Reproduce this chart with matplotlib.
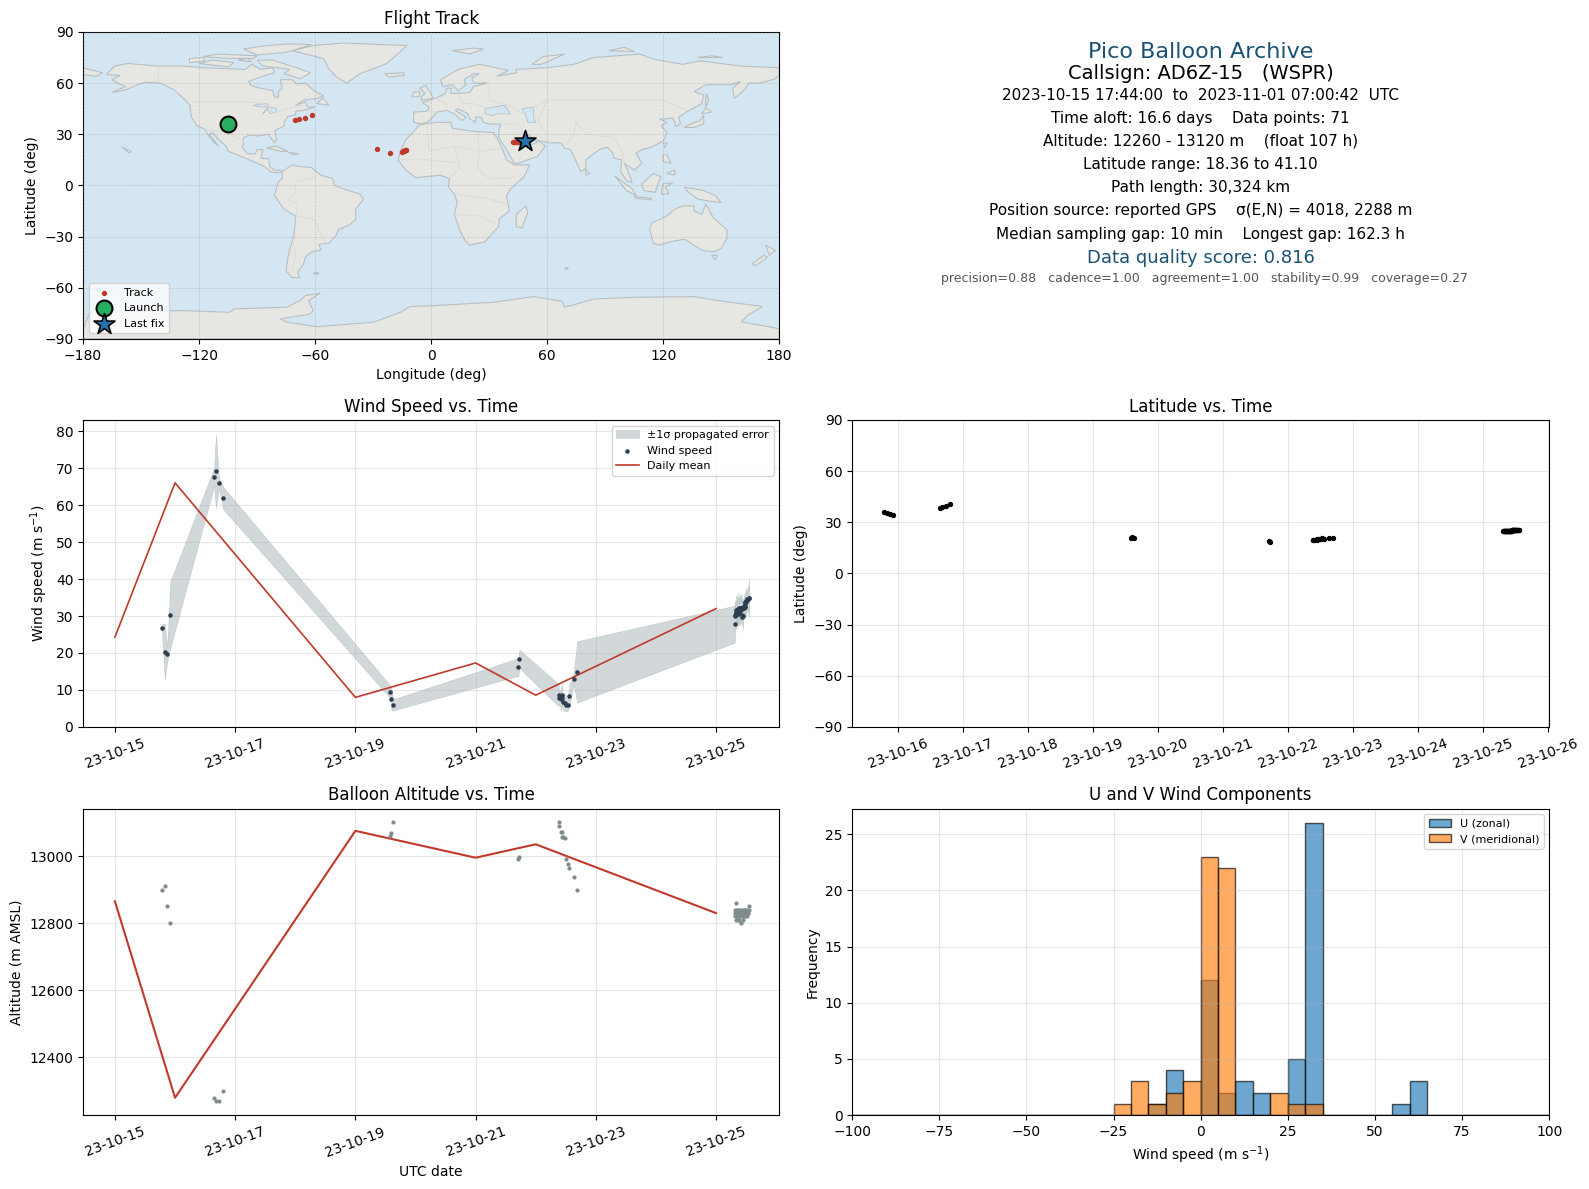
import matplotlib
matplotlib.use("Agg")
import matplotlib.pyplot as plt
import matplotlib.dates as mdates
import numpy as np

# ---- data ----
# days in October 2023 (fractional)
t_g1 = [15.78, 15.83, 15.87, 15.92]
t_g2 = [16.65, 16.68, 16.73, 16.80]
t_g3 = [19.58, 19.60, 19.63]
t_g4 = [21.71, 21.73]
t_g5 = [22.38, 22.39, 22.42, 22.44, 22.44, 22.46, 22.49, 22.51, 22.53, 22.56, 22.63, 22.69]
t_g6 = [25.31, 25.32, 25.32, 25.33, 25.33, 25.34, 25.34, 25.35, 25.35, 25.36, 25.36, 25.37,
        25.37, 25.38, 25.38, 25.39, 25.39, 25.40, 25.40, 25.41, 25.41, 25.42, 25.42, 25.43,
        25.43, 25.44, 25.44, 25.45, 25.45, 25.46, 25.46, 25.47, 25.47, 25.48, 25.48, 25.49,
        25.49, 25.50, 25.50, 25.51, 25.51, 25.52, 25.53, 25.54, 25.55, 25.55]
times = t_g1 + t_g2 + t_g3 + t_g4 + t_g5 + t_g6

wind = [26.8, 20.4, 19.7, 30.3, 67.6, 69.2, 66.0, 61.9, 9.5, 7.5, 6.0, 16.2, 18.4,
        8.6, 7.8, 7.5, 8.7, 7.8, 6.8, 6.5, 6.0, 5.9, 8.4, 13.0, 14.9,
        27.8, 30.4, 30.1, 30.8, 31.0, 30.2, 31.6, 31.2, 30.6, 31.9, 31.5, 30.6,
        32.0, 31.7, 31.2, 32.3, 31.8, 31.4, 32.1, 31.9, 32.2, 32.0, 32.3, 30.4,
        32.3, 32.0, 29.6, 32.2, 30.1, 32.5, 32.4, 32.3, 32.6, 32.5, 33.4, 32.8,
        33.9, 34.1, 33.8, 34.5, 34.2, 34.3, 34.6, 34.7, 34.9, 34.9]
wind_sigma = [0.9, 7.6, 2.0, 9.0, 2.5, 10.0, 1.5, 3.0, 1.7, 3.0, 1.5, 2.4, 2.5,
              3.0, 1.5, 3.0, 3.0, 1.5, 2.4, 2.2, 1.8, 1.5, 3.0, 1.5, 8.3,
              5.0, 4.0, 2.0, 4.5, 1.5, 3.5, 4.0, 2.0, 3.0, 4.5, 2.0, 3.5,
              3.0, 1.5, 3.5, 4.0, 2.0, 4.0, 2.5, 3.5, 1.5, 4.0, 2.0, 3.0,
              3.5, 1.5, 4.0, 2.5, 3.0, 1.5, 3.5, 2.0, 3.0, 1.5, 3.5, 1.5,
              2.5, 2.0, 4.0, 2.0, 3.0, 1.5, 4.0, 2.0, 5.0, 3.0]
altitude = [12900, 12910, 12850, 12800, 12280, 12270, 12270, 12300, 13060, 13070, 13100,
            12990, 12998, 13100, 13089, 13073, 13071, 13058, 13058, 13055, 12990, 12975,
            12963, 12939, 12900,
            12830, 12820, 12840, 12810, 12830, 12860, 12820, 12840, 12830, 12810, 12830,
            12820, 12840, 12830, 12820, 12810, 12840, 12830, 12820, 12830, 12840, 12800,
            12830, 12820, 12840, 12830, 12820, 12810, 12830, 12820, 12840, 12830, 12820,
            12830, 12840, 12830, 12820, 12830, 12840, 12820, 12830, 12840, 12830, 12830,
            12840, 12850]
latitude = [36.0, 35.2, 34.7, 34.2, 38.4, 38.9, 39.7, 40.6, 21.0, 21.1, 21.0, 19.0, 18.4,
            19.6, 19.7, 19.8, 19.9, 20.0, 20.1, 20.2, 20.4, 20.6, 20.5, 20.7, 20.7,
            24.7, 24.7, 24.7, 24.7, 24.8, 24.7, 24.8, 24.8, 24.8, 24.8, 24.9, 24.8,
            24.9, 24.9, 24.9, 24.9, 25.0, 24.9, 25.0, 25.0, 25.0, 25.1, 25.1, 25.0,
            25.1, 25.2, 25.1, 25.2, 25.2, 25.3, 25.2, 25.3, 25.3, 25.4, 25.3, 25.4,
            25.4, 25.5, 25.4, 25.5, 25.5, 25.5, 25.6, 25.5, 25.6, 25.6]

mean_days = [15, 16, 19, 21, 22, 25]
mean_wind = [24.3, 66.0, 8.0, 17.3, 8.6, 32.0]
mean_alt = [12865, 12280, 13075, 12995, 13035, 12830]

track_lon = [-70.5, -68.4, -65.3, -61.7, -28.2, -21.3, -15, -14.5, -14, -13.5, -13, -12.8,
             42.5, 43, 44, 44.5, 45, 45.5, 46, 47, 48]
track_lat = [38.2, 38.8, 39.8, 41.1, 21.2, 18.8, 19.8, 20, 20.3, 20.5, 20.6, 20.6,
             25.2, 25.3, 25.3, 25.4, 25.4, 25.5, 25.5, 25.7, 25.9]
launch = (-105.2, 35.8)
last_fix = (48.3, 25.9)

hist_edges = list(range(-100, 105, 5))
u_counts = [0] * 17 + [1, 4, 0, 12, 2, 3, 2, 0, 5, 26, 0, 0, 0, 0, 1, 3] + [0] * 7
v_counts = [0] * 15 + [1, 3, 1, 2, 3, 23, 22, 0, 0, 2, 1, 1] + [0] * 13

info_lines = [
    ("Pico Balloon Archive", 16, "#1a5276", 51, 1185),
    ("Callsign: AD6Z-15   (WSPR)", 14, "black", 73, 1185),
    ("2023-10-15 17:44:00  to  2023-11-01 07:00:42  UTC", 11, "black", 94, 1185),
    ("Time aloft: 16.6 days    Data points: 71", 11, "black", 117, 1185),
    ("Altitude: 12260 - 13120 m    (float 107 h)", 11, "black", 139, 1185),
    ("Latitude range: 18.36 to 41.10", 11, "black", 162, 1185),
    ("Path length: 30,324 km", 11, "black", 185, 1185),
    ("Position source: reported GPS    \u03c3(E,N) = 4018, 2288 m", 11, "black", 208, 1185),
    ("Median sampling gap: 10 min    Longest gap: 162.3 h", 11, "black", 231, 1185),
    ("Data quality score: 0.816", 13, "#1a5276", 255, 1185),
    ("precision=0.88   cadence=1.00   agreement=1.00   stability=0.99   coverage=0.27", 9, "#555555", 275, 1189),
]

# rough coastlines, (lon, lat)
north_america = [(-168,65),(-163.6,70),(-156.7,71.5),(-142,70),(-128,70),(-118,69),(-106,68.5),(-96,68),(-93,71),(-88,68),(-82,69),(-81,66),(-87,64),(-94.5,61),(-93,58.5),(-88,57),(-82,55.5),(-81,52),(-79,51.5),(-79,55),(-77,57),(-78,62),(-72,62),(-69.5,59.5),(-65,60),(-60,55),(-55.6,52.5),(-59,51),(-66,50),(-70,47),(-65,49),(-64,46),(-60,46),(-66,44),(-70,43.5),(-70,41.5),(-74,40.5),(-76,37),(-76,35),(-81,32),(-80,27),(-81,25),(-83,28),(-84,30),(-90,29),(-94,29.5),(-97,28),(-97.5,22),(-95,18.5),(-91,18.5),(-90,21),(-87,21),(-88,16),(-84,15.5),(-83.5,11),(-81,9),(-78,9),(-77,8),(-80,7.5),(-83,8),(-86,11),(-92,14),(-96,16),(-105,20),(-106,23),(-110,27),(-113,31),(-114.7,30),(-110,23),(-112,25),(-115,29),(-117,33),(-121,35),(-124,40),(-124.7,47),(-128,51),(-133,56),(-140,60),(-148,60.5),(-152,59),(-158,56),(-165,54.5),(-158,58),(-162,60),(-165,62),(-161,64.5)]
south_america = [(-77,8),(-72,12),(-68,11),(-62,10.5),(-57,6),(-51,4),(-50,0),(-44,-2.5),(-37,-5),(-35,-8),(-39,-14),(-39,-20),(-42,-23),(-48,-26),(-49,-29),(-53,-34),(-58,-34.5),(-57,-38),(-62,-39),(-65,-42),(-66,-46),(-69,-51),(-68,-54),(-72,-54),(-75,-50),(-74,-42),(-73,-37),(-71,-30),(-70,-18),(-76,-14),(-81,-6),(-80,-2),(-79,2),(-77,4)]
africa = [(-6,35.5),(3,37),(10,37),(11,33.5),(20,32),(25,31.5),(32,31),(34,28),(37,21),(39,15),(43,12),(51,12),(48,5),(41,-2),(39,-6),(40.5,-15),(35,-20),(35,-24),(32.5,-27),(28,-33),(20,-35),(18,-33),(15,-27),(12,-17),(13.5,-10),(12,-5),(9,-1),(9.5,4),(5,6),(-4,5),(-8,4.5),(-13,9),(-17,14.5),(-16,20),(-13,27),(-9.5,31)]
eurasia = [(-9,37),(-9,43),(-2,43.5),(-1,46),(-4.5,48.5),(2,51),(7,53.5),(8.5,57),(10.5,57),(10,54),(14,54),(20,54.5),(22,58),(29,60),(22,60),(21,63),(25,65.5),(22,65.5),(17,62),(18,59),(14,55.5),(11,59),(6,58),(5,62),(14,68),(25,71),(40,67.5),(34,64),(44,66),(44,68),(60,69),(67,70),(74,71),(84,75),(108,77),(115,74),(130,71),(139.5,73),(160,70),(180,69),(180,65),(178,62.5),(170,60),(164.5,60),(162,56),(156.7,51),(156,57),(160,61),(155,59),(142,59),(136,55),(141,53),(140,48),(132,43),(128,40),(129,36),(126.5,34.5),(126,37),(125,39.5),(121,39),(118,39),(122,37),(119,35),(122,31),(120,26),(114,22.5),(109,21),(106,19),(109,13),(105,9),(100,13),(103,5),(104,1.5),(101,3),(98,8),(98.5,15),(94.5,16),(94,19),(91,22.5),(87,21),(80,15),(80,10),(77.5,8),(73,19),(72,21),(69,22),(67,25),(61,25),(57,26),(54,26.5),(50,30),(48,30),(50,26),(52,24),(56,26),(59,23),(55,17),(45,13),(43,13),(39,21),(35,28),(35,32),(36,36),(30,36),(27,37),(26,40),(23,40),(23,37),(20,39),(19,42),(14,45),(12.5,44),(18,40),(16,38),(12,42),(8,44),(3,43),(0,39),(-2,37),(-5,36)]
antarctica = [(-180,-90),(180,-90),(180,-84),(160.5,-80),(163.6,-76.3),(171.4,-71),(148,-67.5),(136,-65.2),(105,-65.6),(84,-66.6),(73.8,-70),(69,-71.4),(67.8,-68),(53,-65.2),(32.4,-68.5),(1.3,-70.5),(-10.7,-71),(-16,-74.4),(-29.7,-80.2),(-59,-82.8),(-74.6,-80.2),(-78,-78.3),(-62.6,-75.4),(-61,-73.4),(-63.4,-67.5),(-57.4,-63.2),(-65,-64.6),(-67.7,-67.5),(-74.6,-71.4),(-102,-72.4),(-104,-74.4),(-128,-73.4),(-176.5,-74.4),(-180,-84)]
islands = [
    [(-72,79),(-61,82),(-45,83.5),(-12.5,82),(-23,71.4),(-36.6,65.6),(-43.6,60),(-49,63.6),(-53,68.5),(-55.6,74.4)],
    [(-90,73.4),(-82,73.5),(-69.5,69),(-62.5,66),(-67.7,62.5),(-76,65.5),(-73,68),(-87,70)],
    [(-120,71.5),(-105,69.5),(-102,72),(-113,73.5)],
    [(-97,80),(-85,82),(-73,83),(-62,82.5),(-75,78),(-90,76.5)],
    [(-125,72),(-117,73),(-118,75),(-125,74.5)],
    [(-118,75.5),(-105,74.5),(-92,74.5),(-90,76),(-110,77)],
    [(-100,73.5),(-93,72.5),(-95,74.5)],
    [(-59,48),(-53,47),(-56,51.5)],
    [(-24,65.5),(-14,66),(-14,64.5),(-22,63.5)],
    [(-5,50),(1,51),(0,54),(-3,58.5),(-6,57),(-3,54),(-5,52)],
    [(-10,52),(-6,52),(-6,55),(-9,54.5)],
    [(11,79),(22,80.5),(27,80),(20,77)],
    [(52,71),(57,71),(69,77),(58,75.5)],
    [(92,79),(100,81),(105,78.5)],
    [(138,75),(145,76),(151,75)],
    [(49,-12),(50,-16),(47,-25),(44,-24),(44,-17)],
    [(131,34),(136,34),(141,36),(141,41),(139,38),(133,35.5)],
    [(140,42),(145,43),(142,45.5)],
    [(142,46),(143.5,50),(142.5,54),(142,50)],
    [(95,5.5),(104,-2),(106,-6),(101,-3)],
    [(105,-6.5),(114,-7.5),(114,-8.5),(106,-7.5)],
    [(109,1),(115,7),(119,5),(117,0),(116,-4),(110,-3)],
    [(119,-5),(120,1),(125,1.5),(121,-1),(123,-5)],
    [(131,-1),(141,-3),(147,-6),(150,-10),(143,-9),(138,-8),(133,-4)],
    [(120,18),(122,18),(124,13),(120,14)],
    [(122,7),(126,9),(126,6)],
    [(114,-22),(122,-18),(126,-14),(130,-12),(136,-12),(136,-15),(140,-17),(142,-11),(146,-19),(153,-26),(153,-31),(150,-37),(146,-39),(140,-38),(136,-35),(131,-31.5),(124,-33),(118,-35),(115,-34),(113,-26)],
    [(145,-41),(148,-41),(147,-43.5)],
    [(173,-35),(178,-38),(175,-41),(174,-38)],
    [(172,-41),(174,-42),(168,-47),(166,-46)],
    [(80,9.5),(82,7),(80,6)],
    [(-85,22),(-80,23),(-74,20),(-78,20)],
    [(-74,19.5),(-68.5,18.5),(-71,18)],
    [(-61,-51.8),(-58,-51.8),(-59,-51)],
    [(69,-49),(71,-49),(70,-48)],
    [(-180,69),(-170,66),(-173,64),(-180,65)],
    [(120,25),(122,25),(121,22)],
    [(-160,22.5),(-155,20),(-156,19)],
]
inland_water = [
    [(28,42),(28,45),(33,46),(38,47),(41,42),(35,42),(31,41)],
    [(47,45),(53,46),(53,40),(54,37),(50,37),(49,41)],
    [(-92,47),(-85,48),(-84,46),(-88,46)],
    [(-87,42),(-84,46),(-80,45),(-80,43),(-83,42),(-85,45)],
]
borders = [
    [(-123,49),(-95,49),(-88,48),(-83,46),(-82,42),(-75,45),(-67,47)],
    [(-141,70),(-141,60)],
    [(-117,32.5),(-106,31.5),(-97,26)],
    [(-70,-18),(-60,-20),(-58,-27),(-54,-34)],
    [(-70,-18),(-69,-11),(-74,-8),(-70,-4),(-70,2),(-60,5)],
    [(-72,-30),(-70,-40),(-72,-50)],
    [(-2,35),(-1,20),(12,23),(25,20),(24,31)],
    [(25,20),(37,22)],
    [(12,23),(15,10),(9,4)],
    [(25,20),(24,10),(30,4),(41,4)],
    [(13,-5),(30,-8),(40,-11)],
    [(12,-17),(25,-18),(33,-22)],
    [(-16,15),(-1,15),(15,13)],
    [(30,60),(30,50),(40,47),(48,42),(60,50),(85,50),(98,50),(120,50),(132,44)],
    [(60,50),(55,37),(60,30),(61,25)],
    [(75,37),(74,30),(69,23)],
    [(75,37),(80,30),(95,28),(98,22),(100,13)],
    [(48,30),(45,36),(36,36)],
    [(36,30),(48,30)],
    [(2,51),(8,48),(8,44)],
    [(14,54),(16,48),(22,48),(29,45)],
    [(-2,43.5),(3,43)],
]

PANEL_TITLES = ["Flight Track", "Wind Speed vs. Time", "Latitude vs. Time",
                "Balloon Altitude vs. Time", "U and V Wind Components"]

OCEAN = "#d4e6f1"
LAND = "#e6e7e3"
COAST = "#b8bfc2"
RED = "#c0392b"


def to_num(days):
    return mdates.date2num(np.datetime64("2023-10-01")) + np.asarray(days, dtype=float) - 1


W, H = 1589, 1189
S = 1.0132


def panel(x0, y0, x1, y1):
    # rectangle given in the pixel coords of the reference
    return fig.add_axes([x0 * S / W, 1 - y1 * S / H, (x1 - x0) * S / W, (y1 - y0) * S / H])


fig = plt.figure(figsize=(W / 100, H / 100), dpi=100)

ax_map = panel(82, 31.5, 769, 334.5)
ax_wind = panel(82, 414.5, 769, 717.5)
ax_lat = panel(841, 414.5, 1529, 717.5)
ax_alt = panel(82, 798, 769, 1100.5)
ax_hist = panel(841, 798, 1529, 1100.5)

# map
ax_map.set_facecolor(OCEAN)
for poly in [north_america, south_america, africa, eurasia, antarctica] + islands:
    xy = np.array(poly)
    ax_map.fill(xy[:, 0], xy[:, 1], facecolor=LAND, edgecolor=COAST, linewidth=0.8, zorder=1)
for poly in inland_water:
    xy = np.array(poly)
    ax_map.fill(xy[:, 0], xy[:, 1], facecolor=OCEAN, edgecolor=COAST, linewidth=0.6, zorder=1.1)
for line in borders:
    xy = np.array(line)
    ax_map.plot(xy[:, 0], xy[:, 1], color="#d6d8d6", linewidth=0.5, zorder=1.2)
ax_map.scatter(track_lon, track_lat, s=8, color=RED, label="Track", zorder=3)
ax_map.scatter(*launch, s=130, color="#27ae60", edgecolor="black", linewidth=1.5, label="Launch", zorder=4)
ax_map.scatter(*last_fix, s=250, marker="*", color="#2272ae", edgecolor="black", linewidth=1.2, label="Last fix", zorder=4)
ax_map.set_xlim(-180, 180)
ax_map.set_ylim(-90, 90)
ax_map.set_xticks(np.arange(-180, 181, 60))
ax_map.set_yticks(np.arange(-90, 91, 30))
ax_map.grid(True, alpha=0.3, linewidth=0.5, linestyle="--", color="gray", zorder=2)
ax_map.set_axisbelow(False)
ax_map.set_xlabel("Longitude (deg)")
ax_map.set_ylabel("Latitude (deg)")
ax_map.legend(loc="lower left", fontsize=8)

# wind speed
t_num = to_num(times)
wind_arr = np.array(wind)
sigma_arr = np.array(wind_sigma)
ax_wind.fill_between(t_num, wind_arr - sigma_arr, wind_arr + sigma_arr, color="#6c8087", alpha=0.3,
                     linewidth=0.4, label="\u00b11\u03c3 propagated error")
ax_wind.scatter(t_num, wind_arr, s=5, color="#2c3e50", label="Wind speed", zorder=3)
ax_wind.plot(to_num(mean_days), mean_wind, color=RED, linewidth=1.2, label="Daily mean")
ax_wind.set_ylim(0, 83)
ax_wind.set_ylabel("Wind speed (m s$^{-1}$)")
ax_wind.legend(loc="upper right", fontsize=8)

# latitude
ax_lat.scatter(t_num, latitude, s=8, color="black")
ax_lat.set_ylim(-90, 90)
ax_lat.set_yticks(np.arange(-90, 91, 30))
ax_lat.set_ylabel("Latitude (deg)")

# altitude
ax_alt.scatter(t_num, altitude, s=4, color="#7f8c8d", zorder=3)
ax_alt.plot(to_num(mean_days), mean_alt, color=RED, linewidth=1.5)
ax_alt.set_yticks([12400, 12600, 12800, 13000])
ax_alt.set_ylabel("Altitude (m AMSL)")
ax_alt.set_xlabel("UTC date")

for ax, first, last, step in [(ax_wind, 15, 25, 2), (ax_alt, 15, 25, 2), (ax_lat, 16, 26, 1)]:
    ax.set_xticks(to_num(np.arange(first, last + 1, step)))
    ax.xaxis.set_major_formatter(mdates.DateFormatter("%y-%m-%d"))
    ax.tick_params(axis="x", labelrotation=20)
    ax.grid(True, alpha=0.3)
ax_lat.set_xlim(to_num(15.29), to_num(26.02))
ax_wind.set_xlim(to_num(14.47), to_num(26.05))
ax_alt.set_xlim(to_num(14.47), to_num(26.05))

# histogram
edges = np.array(hist_edges)
ax_hist.bar(edges[:-1], u_counts, width=5, align="edge", color="C0", alpha=0.65, edgecolor="black", label="U (zonal)")
ax_hist.bar(edges[:-1], v_counts, width=5, align="edge", color="C1", alpha=0.65, edgecolor="black", label="V (meridional)")
ax_hist.set_xlim(-100, 100)
ax_hist.set_xlabel("Wind speed (m s$^{-1}$)")
ax_hist.set_ylabel("Frequency")
ax_hist.legend(loc="upper right", fontsize=8)
ax_hist.grid(True, alpha=0.3)

for ax, title in zip([ax_map, ax_wind, ax_lat, ax_alt, ax_hist], PANEL_TITLES):
    ax.set_title(title)

for text, size, color, y, x in info_lines:
    fig.text(x * S / W, 1 - y * S / H, text, fontsize=size, color=color, ha="center", va="center")

fig.savefig("out.png", dpi=100)
